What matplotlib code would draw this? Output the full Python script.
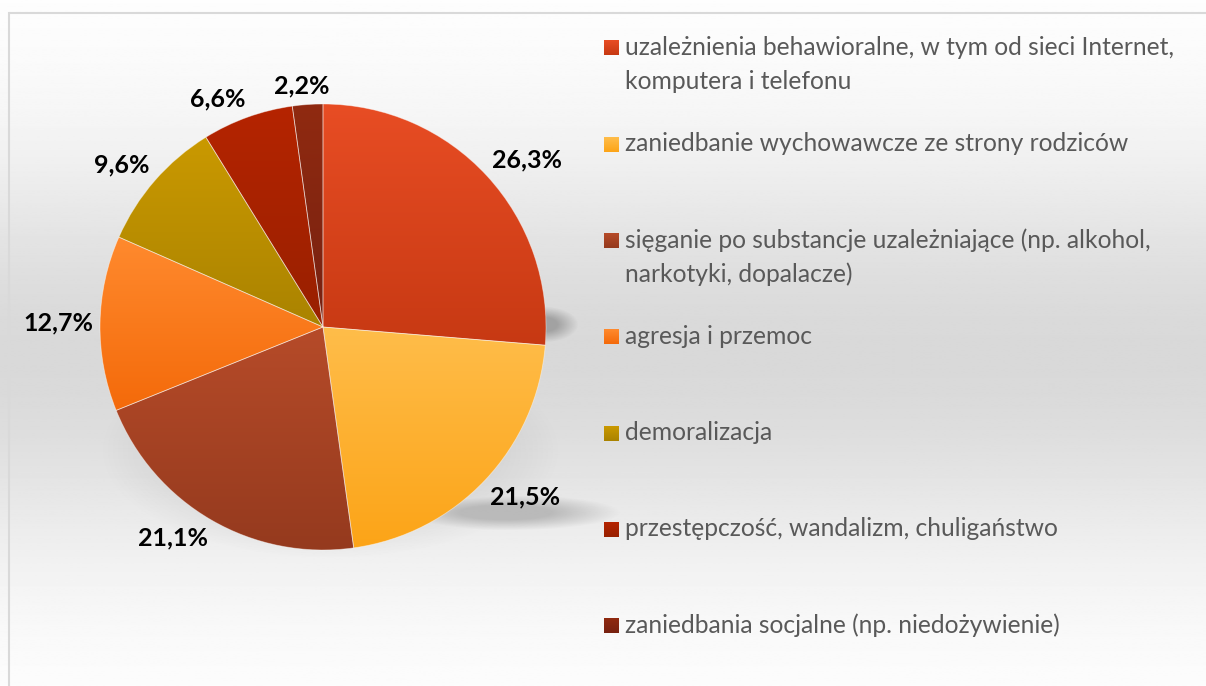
import numpy as np
import matplotlib.pyplot as plt
from matplotlib.colors import LinearSegmentedColormap
from matplotlib.patches import Rectangle

# ── data ──────────────────────────────────────────────
categories = [
    "uzależnienia behawioralne, w tym od sieci Internet,\nkomputera i telefonu",
    "zaniedbanie wychowawcze ze strony rodziców",
    "sięganie po substancje uzależniające (np. alkohol,\nnarkotyki, dopalacze)",
    "agresja i przemoc",
    "demoralizacja",
    "przestępczość, wandalizm, chuligaństwo",
    "zaniedbania socjalne (np. niedożywienie)",
]
values = [26.3, 21.5, 21.1, 12.7, 9.6, 6.6, 2.2]
colors_top = ["#E84D24", "#FFBD4A", "#B64B29", "#FF8A2E", "#CA9900", "#B52400", "#902A10"]
colors_bottom = ["#C73913", "#FCA417", "#953A1E", "#F46A0A", "#AA8300", "#982000", "#772110"]

W, H = 1206, 686
fig = plt.figure(figsize=(W / 100, H / 100), dpi=100)
ax = fig.add_axes([0, 0, 1, 1])
ax.set_xlim(0, W)
ax.set_ylim(0, H)

# background: white -> light grey -> white
ys = np.linspace(0, 1, 400)
shade = 1.0 - 0.15 * np.exp(-((ys - 0.52) / 0.30) ** 2)
bg = np.repeat(shade[:, None], 2, axis=1)
ax.imshow(bg, cmap="gray", vmin=0, vmax=1, extent=(0, W, 0, H), aspect="auto", zorder=0)

# soft shadow lobes under the pie (pixel coords, y down)
gx, gy = np.meshgrid(np.arange(W), np.arange(H))
def soft_ellipse(x0, y0, a, b, amax, soft=0.6):
    d = np.sqrt(((gx - x0) / a) ** 2 + ((gy - y0) / b) ** 2)
    return amax * np.clip((1.0 - d) / soft, 0, 1)

alpha = np.maximum.reduce([
    soft_ellipse(543, 324, 35, 18, 0.5),
    soft_ellipse(505, 512, 115, 18, 0.38),
    soft_ellipse(330, 450, 230, 108, 0.22),
])
sh = np.zeros((H, W, 4))
sh[..., :3] = 0.42
sh[..., 3] = alpha
ax.imshow(sh, extent=(0, W, 0, H), aspect="auto", zorder=1)

# ── pie ───────────────────────────────────────────────
cx, cy, r = 323, H - 327, 223
wedges, _ = ax.pie(
    values, startangle=90, counterclock=False, center=(cx, cy), radius=r,
    wedgeprops=dict(edgecolor=(1, 1, 1, 0.45), linewidth=0.6),
)

for w, ct, cb in zip(wedges, colors_top, colors_bottom):
    th = np.radians(np.linspace(w.theta1, w.theta2, 100))
    yy = np.concatenate([[cy], cy + r * np.sin(th)])
    cmap = LinearSegmentedColormap.from_list("g", [cb, ct])
    grad = np.linspace(1, 0, 256)[:, None]
    im = ax.imshow(grad, cmap=cmap, vmin=0, vmax=1,
                   extent=(cx - r, cx + r, yy.min(), yy.max()), aspect="auto", zorder=2)
    im.set_clip_path(w)
    w.set_facecolor("none")
    w.set_zorder(3)

# data labels "outside end": text box pushed just outside the rim
renderer = fig.canvas.get_renderer()
for w, v in zip(wedges, values):
    mid = np.radians((w.theta1 + w.theta2) / 2)
    c, s = np.cos(mid), np.sin(mid)
    t = ax.text(0, 0, f"{v:.1f}".replace(".", ",") + "%", fontsize=18, fontweight="bold",
                family="Lato", color="black", ha="center", va="center", zorder=5)
    bb = t.get_window_extent(renderer)
    tw, th_ = bb.width, bb.height
    rr = r + 7
    t.set_position((cx + rr * c + tw / 2 * np.clip(3 * c, -1, 1),
                    cy + rr * s + th_ / 2 * np.clip(3 * s, -1, 1)))

# ── legend (fixed slots like the original) ───────────
for i, (name, ct, cb) in enumerate(zip(categories, colors_top, colors_bottom)):
    yc = H - (48 + i * 96.3)
    cmap = LinearSegmentedColormap.from_list("g", [cb, ct])
    ax.imshow(np.linspace(1, 0, 32)[:, None], cmap=cmap, vmin=0, vmax=1,
              extent=(604, 619, yc - 7.5, yc + 7.5), aspect="auto", zorder=4)
    for k, line in enumerate(name.split("\n")):
        ax.text(625, yc - 7 - 34 * k, line, fontsize=17.7, color="#595959", family="Lato",
                va="baseline", ha="left", zorder=4)

# chart border
ax.add_patch(Rectangle((9, -10), W, H - 13 + 10, fill=False, edgecolor="#D9D9D9",
                       linewidth=1.5, zorder=6))

ax.set_xlim(0, W)
ax.set_ylim(0, H)
ax.set_aspect("auto")
ax.axis("off")

fig.savefig("out.png", dpi=100)
